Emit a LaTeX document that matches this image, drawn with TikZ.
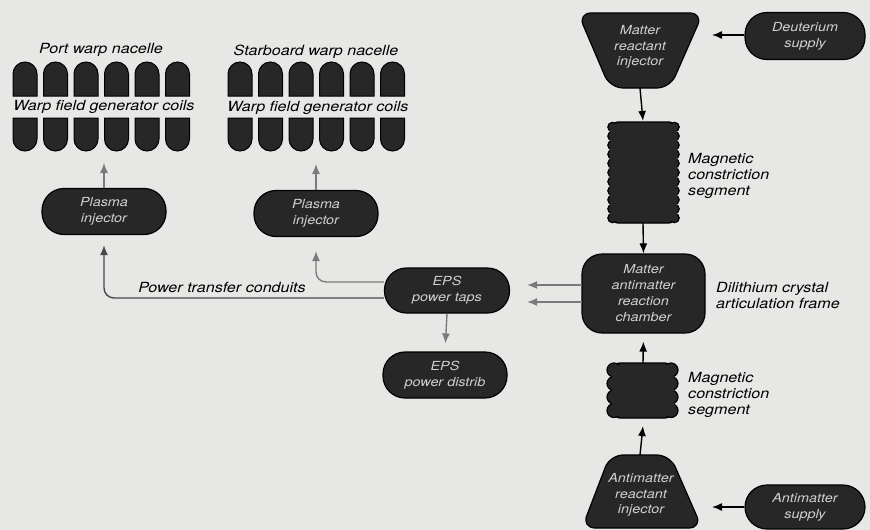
\documentclass[tikz,border=0pt]{standalone}
\usepackage{fontspec}
\setmainfont{TeX Gyre Heros}
\newfontfamily\labfont[FakeStretch=1.15]{TeX Gyre Heros}
\usetikzlibrary{arrows.meta}
\definecolor{bg}{HTML}{E7E7E5}
\definecolor{shp}{HTML}{272727}
\definecolor{intext}{HTML}{D0D0D0}
\definecolor{arrgray}{HTML}{7A7A7A}
\definecolor{arrdark}{HTML}{4A4A4A}
\begin{document}
\begin{tikzpicture}[x=1pt,y=-1pt,
  box/.style={draw=black, line width=1.2pt, fill=shp, rounded corners=22pt,
    minimum width=124pt, minimum height=46pt, inner sep=0pt, text=intext,
    font=\labfont\itshape\fontsize{12.5}{16}\selectfont, align=center},
  intx/.style={text=intext, inner sep=0pt, align=center,
    font=\labfont\itshape\fontsize{12.5}{15.5}\selectfont},
  lab/.style={inner sep=0pt, align=left,
    font=\labfont\itshape\fontsize{14}{16}\selectfont},
  shpdraw/.style={draw=black, line width=1.2pt, fill=shp},
  coil/.style={draw=black, line width=1pt, fill=shp},
  darr/.style={draw=black, line width=1.4pt, -{Latex[length=10pt,width=8pt]}},
  garr/.style={draw=arrgray, line width=1.4pt, -{Latex[length=10pt,width=8pt]}},
]
\useasboundingbox (0,0) rectangle (870,530);
\fill[bg] (0,0) rectangle (870,530);

% ---------- nacelle coils ----------
\foreach \cx in {25,55.5,86,116.5,147,177.5,240,270.5,301,331.5,362,392.5}{
  \draw[coil] (\cx-12,96) -- (\cx-12,74) arc[start angle=180, end angle=0, radius=12pt]
     -- (\cx+12,96) -- cycle;
  \draw[coil] (\cx-12,118) -- (\cx+12,118) -- (\cx+12,139)
     arc[start angle=0, end angle=-180, radius=12pt] -- cycle;
}
\node[lab] (portlab) at (101,50) {Port warp nacelle};
\node[lab] (stbdlab) at (316,52) {Starboard warp nacelle};
\node[lab] (wfgL) at (104,107) {Warp field generator coils};
\node[lab] (wfgR) at (318,108) {Warp field generator coils};
\coordinate (coilL) at (104,163);
\coordinate (coilR) at (316,164);

% ---------- magnetic constriction segments ----------
% upper
\draw[shpdraw, rounded corners=6pt] (612,122) rectangle (675,223);
\foreach \i in {0,...,10}{
  \draw[coil, line width=1.2pt] (612.5,127+\i*9.1) circle (4.7pt);
  \draw[coil, line width=1.2pt] (674.5,127+\i*9.1) circle (4.7pt);
}
\fill[shp] (610.3,124) rectangle (676.7,221);
% lower
\draw[shpdraw, rounded corners=6pt] (614,363) rectangle (671,418);
\foreach \i in {0,...,3}{
  \draw[coil, line width=1.2pt] (614,370+\i*13.5) circle (7pt);
  \draw[coil, line width=1.2pt] (671,370+\i*13.5) circle (7pt);
}
\fill[shp] (611.5,365) rectangle (673.5,416);
\coordinate (seg1T) at (643,121);
\coordinate (seg1B) at (643,223);
\coordinate (seg2T) at (643,363);
\coordinate (seg2B) at (643,426);

\node[lab] (mag1) at (688,176) [anchor=west] {Magnetic\\constriction\\segment};
\node[lab] (mag2) at (688,395) [anchor=west] {Magnetic\\constriction\\segment};
\node[lab] (dili) at (716,295) [anchor=west] {Dilithium crystal\\articulation frame};

% ---------- injectors (trapezoids) ----------
\draw[shpdraw, rounded corners=13pt] (578,13) -- (703,13) -- (670,88) -- (610,88) -- cycle;
\node[intx] (minj) at (640,47) {Matter\\reactant\\injector};
\draw[shpdraw, rounded corners=13pt] (610,455) -- (670,455) -- (702,528) -- (582,528) -- cycle;
\node[intx] (ainj) at (641,495) {Antimatter\\reactant\\injector};
\coordinate (minjR) at (712,35);
\coordinate (minjB) at (640,88);
\coordinate (ainjR) at (712,507);
\coordinate (ainjT) at (640,455);

% ---------- rounded boxes ----------
\node[box, minimum width=120pt, minimum height=47pt] (deut) at (805,36) {Deuterium\\supply};
\node[box, minimum width=120pt, minimum height=44pt] (asup) at (805,507) {Antimatter\\supply};
\node[box, rounded corners=20pt, minimum width=123pt, minimum height=79pt] (cham) at (643.5,293.5)
  {Matter\\antimatter\\reaction\\chamber};
\node[box, minimum width=125pt, minimum height=45pt] (taps) at (447,290.5) {EPS\\power taps};
\node[box] (dist) at (445,375) {EPS\\power distrib};
\node[box] (plL) at (104,211.5) {Plasma\\injector};
\node[box] (plR) at (316,213.5) {Plasma\\injector};

\coordinate (chL1) at (582,285);
\coordinate (chL2) at (582,302);

% ---------- connectors ----------
\draw[darr] (deut.west |- minjR) -- (minjR);
\draw[darr] (asup.west) -- (ainjR);
\draw[darr] (minjB) -- (seg1T);
\draw[darr] (seg1B) -- (cham.north);
\draw[darr, shorten >=8pt] (seg2T) -- (cham.south);
\draw[darr] (ainjT) -- (seg2B);

\draw[garr, shorten >=17pt] (chL1) -- (taps.east |- chL1);
\draw[garr, shorten >=17pt] (chL2) -- (taps.east |- chL2);
\draw[garr, shorten >=8pt] (taps.south) -- (dist.north);
\draw[garr, rounded corners=10pt, shorten >=14pt] (taps.west |- 0,282) -- (plR.south |- 0,282) -- (plR.south);
\draw[garr, draw=arrdark, rounded corners=10pt, shorten >=10pt] (taps.west |- 0,298) -- (plL.south |- 0,298) -- (plL.south);
\draw[garr] (plL.north) -- (coilL);
\draw[garr] (plR.north) -- (coilR);

\node[lab] (ptc) at (222,287) {Power transfer conduits};
\end{tikzpicture}
\end{document}
